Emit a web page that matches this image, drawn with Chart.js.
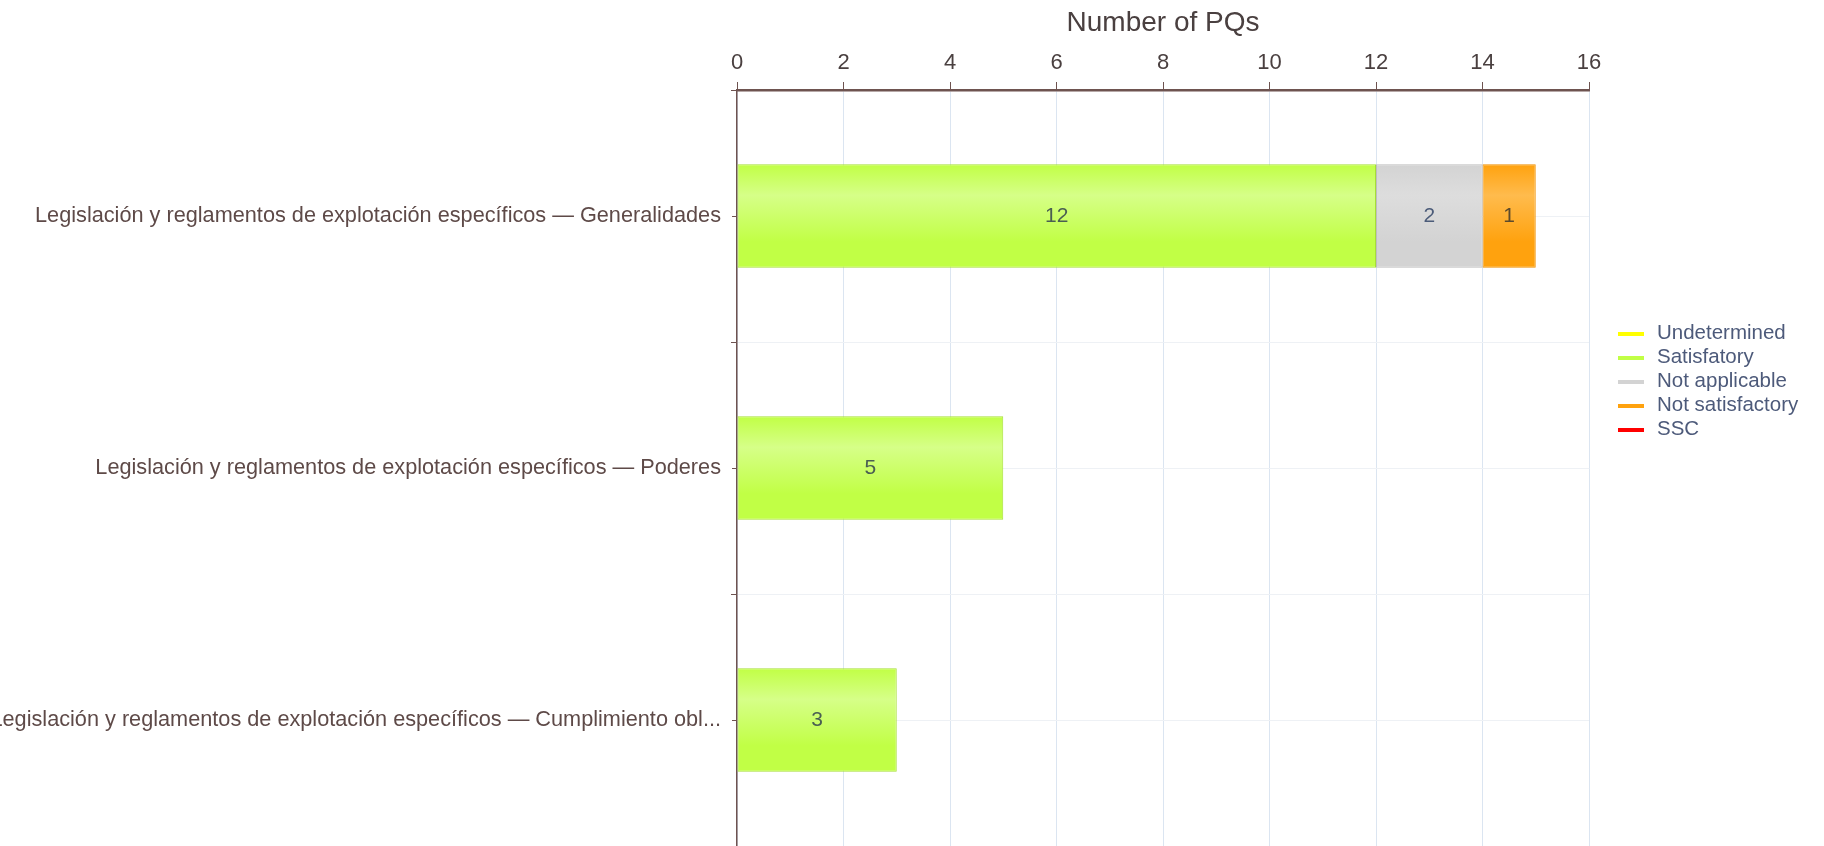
<!DOCTYPE html>
<html>
<head>
<meta charset="utf-8">
<script src="https://cdn.jsdelivr.net/npm/chart.js@4/dist/chart.umd.min.js"></script>
<style>
  html, body { margin: 0; padding: 0; background: #fff; overflow: hidden; }
  #wrap { position: relative; width: 1824px; height: 846px; }
  #legend { position: absolute; left: 1618px; top: 320px; font-family: Arial, 'Liberation Sans', sans-serif; font-size: 20.5px; color: #4d5a7a; }
  #legend div { height: 24px; line-height: 24px; white-space: nowrap; }
  #legend span { display: inline-block; width: 26px; height: 4px; vertical-align: middle; margin-right: 13px; }
</style>
</head>
<body>
<div id="wrap">
  <canvas id="pqChart" width="1824" height="846"></canvas>
  <div id="legend"></div>
</div>
<script>
// categories (y axis)
const categories = [
  'Legislación y reglamentos de explotación específicos — Generalidades',
  'Legislación y reglamentos de explotación específicos — Poderes',
  'Legislación y reglamentos de explotación específicos — Cumplimiento obl...'
];

// series
const seriesNames = ['Undetermined', 'Satisfatory', 'Not applicable', 'Not satisfactory', 'SSC'];
const undetermined = [0, 0, 0];
const satisfactory = [12, 5, 3];
const notApplicable = [2, 0, 0];
const notSatisfactory = [1, 0, 0];
const ssc = [0, 0, 0];

// x axis
const xMin = 0, xMax = 16, xStep = 2;

// look
const baseColors = ['#ffff00', '#c1ff45', '#d3d3d3', '#ffa20e', '#ff0000'];
const lightColors = ['#ffff80', '#d6ff88', '#dddddd', '#ffbb4d', '#ff6666'];
const borderColors = ['#e0e000', '#a6df35', '#bdbdbd', '#f09000', '#d00000'];
const valueColors = ['#555', '#4a5f52', '#4c5c79', '#5c4a2c', '#555'];
const BAR_RATIO = 0.41;
const FONT = "Arial, 'Liberation Sans', sans-serif";
const AXIS = '#6e5350';

function barFill(i) {
  return ctx => {
    const chart = ctx.chart, y = chart.scales.y;
    if (ctx.type !== 'data' || !y || !chart.chartArea) return baseColors[i];
    const c = y.getPixelForValue(ctx.dataIndex);
    const half = (y.height / categories.length) * BAR_RATIO / 2;
    const g = chart.ctx.createLinearGradient(0, c - half, 0, c + half);
    g.addColorStop(0, baseColors[i]);
    g.addColorStop(0.3, lightColors[i]);
    g.addColorStop(0.75, baseColors[i]);
    g.addColorStop(1, baseColors[i]);
    return g;
  };
}

const values = [undetermined, satisfactory, notApplicable, notSatisfactory, ssc];

// value labels in the middle of each bar segment
const valueLabels = {
  id: 'valueLabels',
  afterDatasetsDraw(chart) {
    const c = chart.ctx;
    c.save();
    c.font = '21px ' + FONT;
    c.textAlign = 'center';
    c.textBaseline = 'middle';
    chart.data.datasets.forEach((ds, i) => {
      const meta = chart.getDatasetMeta(i);
      if (meta.hidden) return;
      meta.data.forEach((bar, j) => {
        if (!ds.data[j]) return;
        const p = bar.getCenterPoint();
        c.fillStyle = valueColors[i];
        c.fillText(ds.data[j], p.x, p.y);
      });
    });
    c.restore();
  }
};

const chart = new Chart(document.getElementById('pqChart'), {
  type: 'bar',
  data: {
    labels: categories,
    datasets: seriesNames.map((name, i) => ({
      label: name,
      data: values[i],
      backgroundColor: barFill(i),
      borderColor: borderColors[i],
      borderWidth: 1,
      borderSkipped: false,
      categoryPercentage: 1,
      barPercentage: BAR_RATIO
    }))
  },
  options: {
    indexAxis: 'y',
    responsive: false,
    animation: false,
    layout: { padding: { top: 2, right: 235, bottom: 0, left: 0 } },
    plugins: { legend: { display: false }, tooltip: { enabled: false } },
    scales: {
      x: {
        position: 'top',
        stacked: true,
        min: xMin, max: xMax,
        ticks: { stepSize: xStep, color: '#4a4040', font: { family: FONT, size: 22 }, padding: 6 },
        grid: { color: '#dbe5f1', tickColor: AXIS, tickLength: 8 },
        border: { color: AXIS, width: 2.5 },
        title: { display: true, text: 'Number of PQs', color: '#4a4040', font: { family: FONT, size: 28 }, padding: { top: 4, bottom: 4 } }
      },
      y: {
        stacked: true,
        weight: 1,
        ticks: { color: '#5e4a48', font: { family: FONT, size: 21.7 }, padding: 10 },
        grid: { offset: true, color: '#eef1f5', tickColor: AXIS, tickLength: 6 },
        border: { color: AXIS, width: 1.5 },
        afterFit(scale) { scale.width = 737; scale.paddingTop = 0; scale.paddingBottom = 0; }
      },
      y2: {
        type: 'category',
        position: 'left',
        weight: 0,
        offset: true,
        ticks: { display: false },
        grid: { offset: false, color: '#eef1f5', tickColor: AXIS, tickLength: 5 },
        border: { display: false },
        afterFit(scale) { scale.width = 0; scale.paddingTop = 0; scale.paddingBottom = 0; }
      }
    }
  },
  plugins: [valueLabels]
});

// legend from the chart's datasets
document.getElementById('legend').innerHTML = chart.data.datasets
  .map((ds, i) => `<div><span style="background:${baseColors[i]}"></span>${ds.label}</div>`)
  .join('');
</script>
</body>
</html>
